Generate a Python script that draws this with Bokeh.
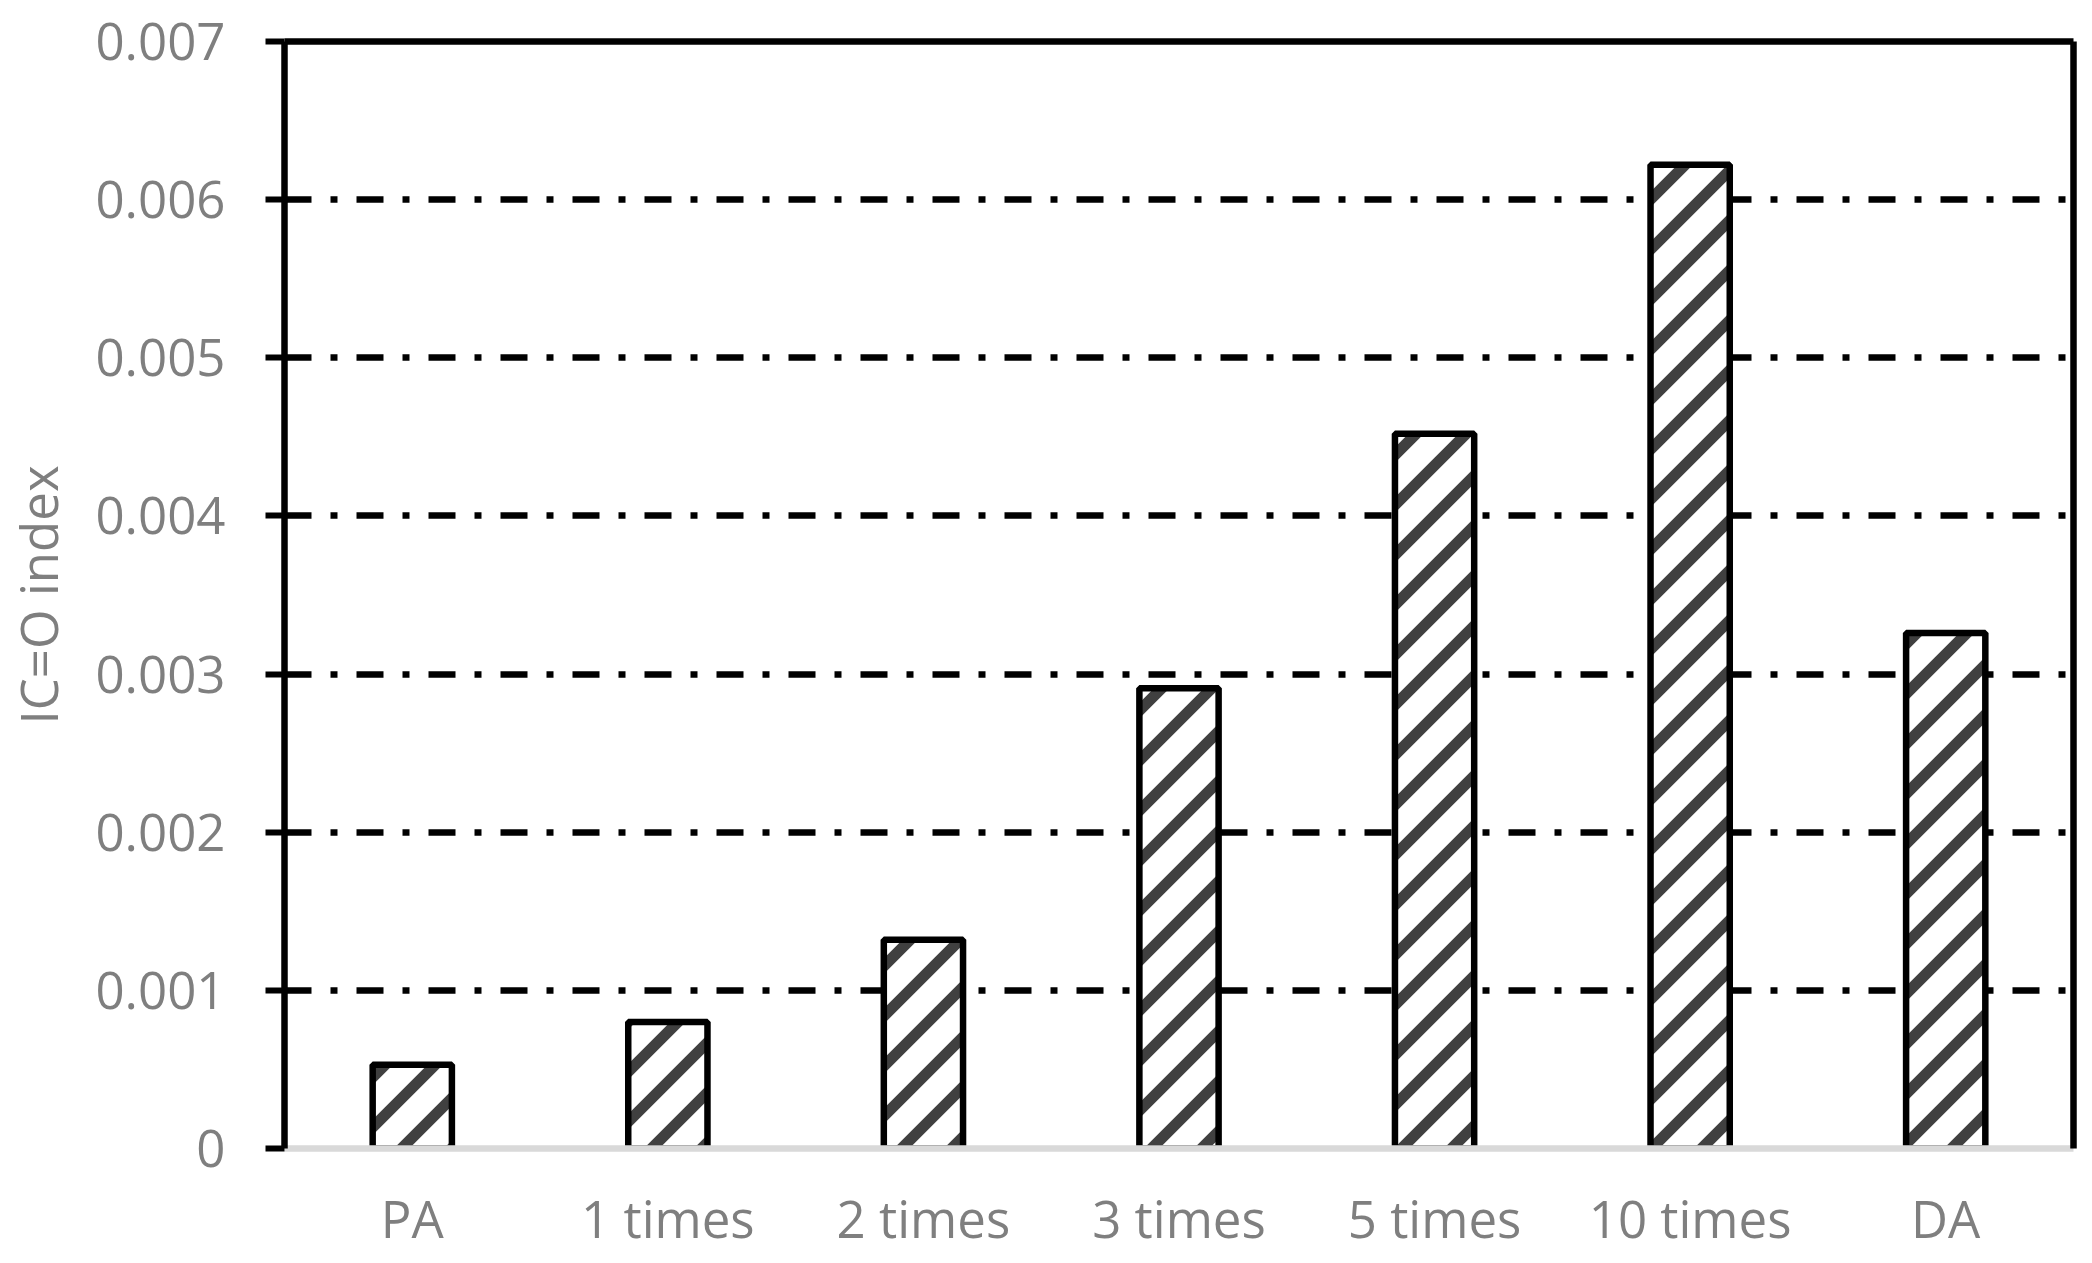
import base64
from bokeh.plotting import figure
from bokeh.models import (FactorRange, Range1d, FixedTicker, NumeralTickFormatter,
                          LinearAxis, CategoricalAxis, ImageURLTexture)
from bokeh.core.properties import value
from bokeh.embed import file_html
from bokeh.resources import INLINE

categories = ["PA", "1 times", "2 times", "3 times", "5 times", "10 times", "DA"]
values = [0.00053, 0.00080, 0.00132, 0.00291, 0.00452, 0.00622, 0.00326]
y_ticks = [0, 0.001, 0.002, 0.003, 0.004, 0.005, 0.006, 0.007]
grid_ticks = [0.001, 0.002, 0.003, 0.004, 0.005, 0.006]
y_title = "IC=O index"

FONT = "Open Sans"
GRAY = "#7F7F7F"
FS = "51px"

# 45-degree upward diagonal stripe tile (Excel "wide upward diagonal")
tile_svg = ("<svg xmlns='http://www.w3.org/2000/svg' width='50' height='50'>"
            "<rect width='50' height='50' fill='white'/>"
            "<path d='M-50,50 L50,-50 M0,50 L50,0 M0,100 L100,0' "
            "stroke='#404040' stroke-width='11' fill='none'/></svg>")
tile_url = "data:image/svg+xml;base64," + base64.b64encode(tile_svg.encode()).decode()
stripes = ImageURLTexture(url=tile_url, repetition="repeat")

p = figure(
    width=2084, height=1256,
    x_range=FactorRange(factors=categories, range_padding=0),
    y_range=Range1d(0, 0.007),
    output_backend="svg", toolbar_location=None,
    min_border_left=283, min_border_right=11, min_border_top=41, min_border_bottom=108,
)
p.outline_line_color = None
p.background_fill_color = "white"

p.vbar(x=categories, top=values, width=0.31, bottom=0,
       fill_color="white", line_color="black", line_width=6.5,
       hatch_pattern=value("stripes"), hatch_extra={"stripes": stripes},
       hatch_color="#404040", hatch_scale=50, hatch_weight=11)

# grid
p.xgrid.grid_line_color = None
p.ygrid.ticker = FixedTicker(ticks=grid_ticks)
p.ygrid.grid_line_color = "black"
p.ygrid.grid_line_width = 6.5
p.ygrid.grid_line_dash = "27 19 7 19"

# y axis
ya = p.yaxis[0]
ya.ticker = FixedTicker(ticks=y_ticks)
ya.formatter = NumeralTickFormatter(format="0.[000]")
ya.axis_line_color = "black"
ya.axis_line_width = 6.5
ya.major_tick_line_color = "black"
ya.major_tick_line_width = 6
ya.major_tick_out = 19
ya.major_tick_in = 0
ya.minor_tick_line_color = None
ya.major_label_text_color = GRAY
ya.major_label_text_font = FONT
ya.major_label_text_font_size = FS
ya.major_label_standoff = 40
ya.axis_label = y_title
ya.axis_label_text_color = GRAY
ya.axis_label_text_font = FONT
ya.axis_label_text_font_size = FS
ya.axis_label_text_font_style = "normal"
ya.axis_label_standoff = 19

# x axis
xa = p.xaxis[0]
xa.axis_line_color = "#D9D9D9"
xa.axis_line_width = 6.5
xa.major_tick_line_color = None
xa.minor_tick_line_color = None
xa.major_label_text_color = GRAY
xa.major_label_text_font = FONT
xa.major_label_text_font_size = FS
xa.major_label_standoff = 28

# top and right frame borders as bare axis lines
right_ax = LinearAxis(ticker=FixedTicker(ticks=[]), axis_line_color="black", axis_line_width=6.5,
                      major_tick_line_color=None, minor_tick_line_color=None,
                      major_label_text_font_size="0px", major_label_standoff=0)
p.add_layout(right_ax, "right")
top_ax = CategoricalAxis(axis_line_color="black", axis_line_width=6.5,
                         major_tick_line_color=None, minor_tick_line_color=None,
                         major_label_text_font_size="0px", major_label_standoff=0,
                         major_label_text_color=None)
p.add_layout(top_ax, "above")

open("out.html", "w").write(file_html(p, INLINE))
